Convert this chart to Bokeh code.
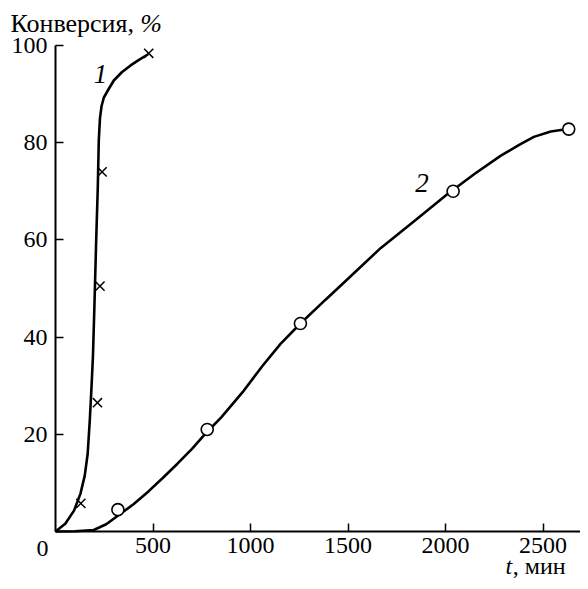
from bokeh.plotting import figure
from bokeh.models import Range1d, FixedTicker, Label
from bokeh.embed import file_html
from bokeh.resources import INLINE

# ---- data ----
# series 1 (crosses) and its curve
x1_pts = [130, 215, 228, 239, 478]
y1_pts = [5.8, 26.5, 50.5, 74.0, 98.4]
x1_curve = [0, 50, 95, 128, 150, 165, 176, 185, 192, 200, 208, 217, 222, 228, 236, 248, 275, 299, 340, 385, 430, 475]
y1_curve = [0, 1.6, 4.3, 7.8, 11.5, 16, 23, 30, 36, 47, 59, 71, 80.5, 85, 87.5, 89.3, 91.2, 92.8, 94.5, 95.9, 97.1, 98.2]

# series 2 (circles) and its curve
x2_pts = [320, 778, 1256, 2039, 2632]
y2_pts = [4.5, 21.0, 42.8, 70.0, 82.8]
x2_curve = [0, 100, 196, 260, 325, 400, 478, 550, 624, 700, 761, 850, 966, 1060, 1154, 1256, 1385, 1500, 1667, 1850, 2009, 2150, 2282, 2380, 2453, 2540, 2610]
y2_curve = [0, 0.05, 0.3, 1.5, 3.4, 5.6, 8.3, 11, 13.9, 17, 19.8, 23.5, 29, 34, 38.6, 42.8, 47.7, 52, 58.3, 64.2, 69.4, 73.6, 77.3, 79.6, 81.2, 82.3, 82.7]

x_ticks = [500, 1000, 1500, 2000, 2500]
y_ticks = [20, 40, 60, 80, 100]

FONT = "Liberation Serif"
FS = "24px"

W, H = 580, 581
X0PX, Y0PX, Y100PX = 55, 531, 45
XS = 0.195                       # px per minute
YS = (Y0PX - Y100PX) / 100.0     # px per percent

p = figure(width=W, height=H, output_backend="svg", toolbar_location=None,
           x_range=Range1d(-X0PX / XS, (W - X0PX) / XS),
           y_range=Range1d(-(H - Y0PX) / YS, 100 + Y100PX / YS),
           min_border=0, min_border_left=0, min_border_right=0,
           min_border_top=0, min_border_bottom=0)
p.outline_line_color = None
p.grid.grid_line_color = None
p.background_fill_color = "white"
p.border_fill_color = "white"

for ax in (p.xaxis[0], p.yaxis[0]):
    ax.fixed_location = 0
    ax.axis_line_width = 2
    ax.axis_line_color = "black"
    ax.major_tick_line_width = 1.5
    ax.major_tick_line_color = "black"
    ax.major_tick_in = 8
    ax.major_tick_out = 0
    ax.minor_tick_line_color = None
    ax.major_label_text_font = FONT
    ax.major_label_text_font_size = FS
    ax.major_label_text_color = "black"

p.xaxis[0].ticker = FixedTicker(ticks=x_ticks)
p.yaxis[0].ticker = FixedTicker(ticks=y_ticks)
p.xaxis[0].bounds = (0, (W - X0PX) / XS)
p.yaxis[0].bounds = (0, 100)
p.xaxis[0].major_label_standoff = 6
p.yaxis[0].major_label_standoff = 8

# curves
p.line(x1_curve, y1_curve, line_color="black", line_width=2.6)
p.line(x2_curve, y2_curve, line_color="black", line_width=2.6)

# markers
p.scatter(x1_pts, y1_pts, marker="x", size=13, line_color="black", line_width=1.5)
p.scatter(x2_pts, y2_pts, marker="circle", size=12, fill_color="white", line_color="black", line_width=1.6)

def lab(x, y, t, size=FS, style="normal", align="left"):
    p.add_layout(Label(x=x, y=y, text=t, text_font=FONT, text_font_size=size,
                       text_font_style=style, text_align=align, text_baseline="middle",
                       text_color="black"))

# series labels
lab(231, 94.2, "1", size="27px", style="italic", align="center")
lab(1880, 71.7, "2", size="27px", style="italic", align="center")

# axis titles and corner zero
lab(-231, 104.6, "Конверсия,", size="26px")
lab(435, 104.6, "%", size="26px", style="italic")
lab(2308, -7.0, "t", style="italic")
lab(2345, -7.0, ", мин")
lab(-67, -3.5, "0", align="center")

open("out.html", "w").write(file_html(p, INLINE))
